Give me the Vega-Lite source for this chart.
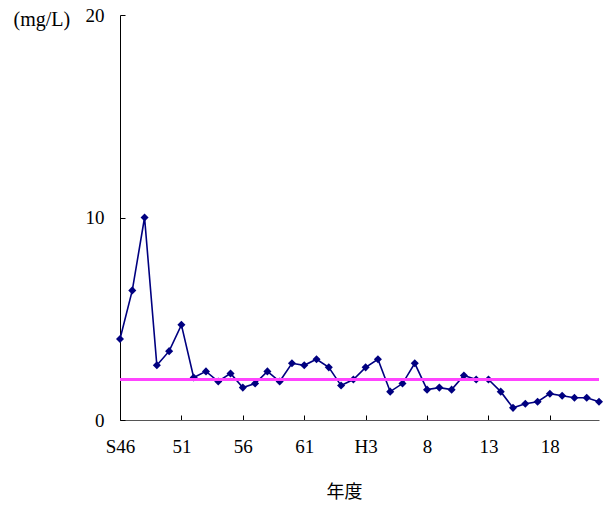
{
  "$schema": "https://vega.github.io/schema/vega-lite/v6.json",
  "width": 479,
  "height": 405,
  "autosize": {"type": "none"},
  "padding": {"left": 120, "top": 15, "right": 5, "bottom": 88},
  "background": "white",
  "config": {
    "view": {"stroke": null},
    "axis": {"grid": false, "domainColor": "#000000", "tickColor": "#000000", "labelColor": "#000000", "titleColor": "#000000"}
  },
  "data": {
    "values": [
      {"year": 1971, "value": 4.0},
      {"year": 1972, "value": 6.4},
      {"year": 1973, "value": 10.0},
      {"year": 1974, "value": 2.7},
      {"year": 1975, "value": 3.4},
      {"year": 1976, "value": 4.7},
      {"year": 1977, "value": 2.1},
      {"year": 1978, "value": 2.4},
      {"year": 1979, "value": 1.9},
      {"year": 1980, "value": 2.3},
      {"year": 1981, "value": 1.6},
      {"year": 1982, "value": 1.8},
      {"year": 1983, "value": 2.4},
      {"year": 1984, "value": 1.9},
      {"year": 1985, "value": 2.8},
      {"year": 1986, "value": 2.7},
      {"year": 1987, "value": 3.0},
      {"year": 1988, "value": 2.6},
      {"year": 1989, "value": 1.7},
      {"year": 1990, "value": 2.0},
      {"year": 1991, "value": 2.6},
      {"year": 1992, "value": 3.0},
      {"year": 1993, "value": 1.4},
      {"year": 1994, "value": 1.8},
      {"year": 1995, "value": 2.8},
      {"year": 1996, "value": 1.5},
      {"year": 1997, "value": 1.6},
      {"year": 1998, "value": 1.5},
      {"year": 1999, "value": 2.2},
      {"year": 2000, "value": 2.0},
      {"year": 2001, "value": 2.0},
      {"year": 2002, "value": 1.4},
      {"year": 2003, "value": 0.6},
      {"year": 2004, "value": 0.8},
      {"year": 2005, "value": 0.9},
      {"year": 2006, "value": 1.3},
      {"year": 2007, "value": 1.2},
      {"year": 2008, "value": 1.1},
      {"year": 2009, "value": 1.1},
      {"year": 2010, "value": 0.9}
    ]
  },
  "layer": [
    {
      "mark": {"type": "line", "color": "#000080", "strokeWidth": 1.6, "point": {"shape": "diamond", "size": 65, "filled": true, "color": "#000080", "opacity": 1}},
      "encoding": {
        "x": {
          "field": "year", "type": "quantitative",
          "scale": {"domain": [1971, 2010], "nice": false, "zero": false},
          "axis": {
            "values": [1971, 1976, 1981, 1986, 1991, 1996, 2001, 2006],
            "labelExpr": "datum.value == 1971 ? 'S46' : datum.value < 1989 ? toString(datum.value - 1925) : datum.value == 1991 ? 'H3' : toString(datum.value - 1988)",
            "tickSize": -5,
            "labelPadding": 22,
            "labelFont": "Liberation Serif",
            "labelFontSize": 19,
            "labelOverlap": false,
            "labelFlush": false,
            "domainColor": "#555555",
            "title": "年度",
            "titleFont": "Noto Sans CJK JP",
            "titleFontSize": 18,
            "titleFontWeight": "normal",
            "titleX": 224,
            "titleY": 72,
            "titleAlign": "center",
            "titleBaseline": "middle"
          }
        },
        "y": {
          "field": "value", "type": "quantitative",
          "scale": {"domain": [0, 20], "nice": false},
          "axis": {
            "values": [0, 10, 20],
            "tickSize": -5,
            "labelPadding": 21,
            "labelFont": "Liberation Serif",
            "labelFontSize": 19,
            "title": "(mg/L)",
            "titleFont": "Liberation Serif",
            "titleFontSize": 20,
            "titleFontWeight": "normal",
            "titleAngle": 0,
            "titleAlign": "left",
            "titleBaseline": "middle",
            "titleX": -107,
            "titleY": 4
          }
        }
      }
    },
    {
      "mark": {"type": "rule", "color": "#ff44ff", "stroke": "#ff44ff", "strokeWidth": 1.5, "opacity": 1},
      "encoding": {"y": {"datum": 2, "type": "quantitative"}}
    }
  ]
}
